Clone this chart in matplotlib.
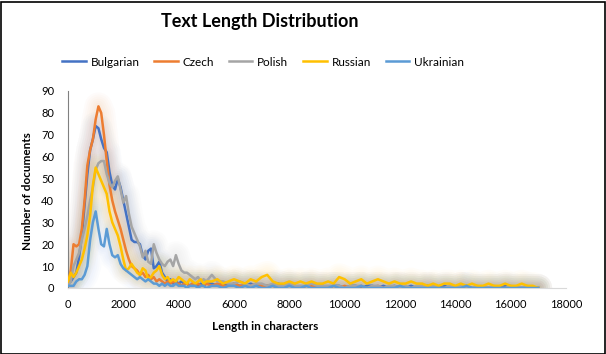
import matplotlib
matplotlib.use("Agg")
import matplotlib.pyplot as plt
from matplotlib.patches import Rectangle

plt.rcParams['font.family'] = ['Lato', 'DejaVu Sans']

# ---- data ----
lengths = list(range(0, 5001, 100)) + list(range(5200, 17001, 200))

bulgarian = [2, 3, 5, 7, 14, 24, 38, 52, 63, 68, 74, 73, 68, 64, 62, 53, 47, 45, 50, 46,
             40, 34, 28, 22, 21, 21, 20, 15, 13, 17, 18,
             9, 10, 12, 7, 5, 3, 4, 2, 3, 2, 3, 2, 2, 1, 2, 2, 1, 2, 1, 2,
             2, 1, 2, 1, 2, 1, 1, 2, 1, 1,
             1, 1, 2, 1, 1, 1, 0, 1, 1, 1,
             1, 0, 1, 1, 0, 1, 1, 0, 1, 1,
             0, 1, 0, 1, 0, 0, 1, 0, 0, 1,
             0, 0, 1, 0, 0, 0, 1, 0, 0, 0,
             0, 0, 0, 1, 0, 0, 0, 0, 0, 0]

czech = [2, 8, 20, 19, 20, 27, 40, 56, 63, 68, 77, 83, 80, 70, 58, 47, 40, 35, 31, 27,
         22, 17, 13, 10, 9, 8, 6, 7, 5, 6, 4,
         5, 3, 4, 3, 2, 3, 2, 3, 2, 2, 1, 2, 2, 1, 2, 1, 2, 1, 1, 2,
         1, 2, 1, 1, 2, 1, 1, 1, 2, 1,
         1, 1, 0, 1, 1, 1, 0, 1, 1, 0,
         1, 0, 1, 0, 1, 0, 0, 1, 0, 0,
         1, 0, 0, 0, 1, 0, 0, 0, 0, 1,
         0, 0, 0, 0, 0, 1, 0, 0, 0, 0,
         0, 0, 0, 0, 0, 0, 0, 0, 0, 0]

polish = [1, 3, 10, 13, 16, 22, 27, 33, 40, 46, 54, 57, 58, 58, 52, 48, 46, 49, 51, 45,
          39, 42, 34, 28, 25, 22, 19, 14, 17, 12, 11,
          20, 16, 13, 11, 10, 12, 13, 10, 15, 11, 8, 7, 7, 6, 5, 4, 5, 3, 4, 3,
          6, 3, 3, 2, 2, 3, 2, 1, 2, 2,
          1, 2, 1, 1, 2, 1, 1, 1, 2, 1,
          1, 1, 1, 1, 0, 1, 1, 1, 0, 1,
          1, 0, 1, 1, 0, 1, 0, 1, 1, 0,
          1, 0, 0, 1, 0, 1, 0, 0, 1, 0,
          0, 1, 0, 0, 1, 0, 0, 1, 0, 0]

russian = [3, 7, 5, 7, 10, 13, 18, 24, 33, 47, 55, 52, 49, 46, 43, 35, 30, 27, 24, 19,
           13, 8, 9, 11, 9, 7, 6, 9, 8, 4, 5,
           7, 8, 10, 6, 4, 5, 3, 4, 3, 5, 4, 3, 2, 4, 3, 2, 3, 4, 2, 3,
           3, 4, 2, 3, 4, 3, 2, 4, 3, 5,
           6, 3, 2, 2, 3, 2, 3, 2, 3, 2,
           2, 3, 2, 5, 4, 2, 3, 4, 2, 3,
           4, 3, 2, 3, 2, 2, 3, 2, 2, 1,
           2, 1, 2, 2, 1, 2, 1, 2, 1, 1,
           2, 1, 1, 2, 1, 1, 2, 1, 1, 0]

ukrainian = [1, 1, 1, 3, 4, 4, 6, 10, 22, 30, 35, 27, 20, 19, 27, 20, 15, 14, 15, 11,
             9, 8, 7, 6, 5, 4, 5, 4, 3, 4, 3,
             2, 2, 1, 2, 1, 2, 1, 1, 2, 1, 1, 1, 0, 1, 1, 1, 0, 1, 1, 0,
             1, 1, 0, 1, 1, 0, 1, 0, 1, 0,
             0, 1, 0, 0, 1, 0, 0, 1, 0, 0,
             0, 0, 1, 0, 0, 0, 0, 1, 0, 0,
             0, 0, 0, 0, 1, 0, 0, 0, 0, 0,
             0, 0, 0, 0, 0, 0, 1, 0, 0, 0,
             0, 0, 0, 0, 0, 0, 0, 0, 0, 0]

series_names = ["Bulgarian", "Czech", "Polish", "Russian", "Ukrainian"]
series_values = [bulgarian, czech, polish, russian, ukrainian]
colors = ["#4472C4", "#ED7D31", "#A5A5A5", "#FFC000", "#5B9BD5"]

x_ticks = list(range(0, 18001, 2000))
y_ticks = list(range(0, 91, 10))

# ---- figure ----
fig = plt.figure(figsize=(6.06, 3.54), dpi=100)
ax = fig.add_axes([68/606, 66/354, 498/606, 197/354])

handles = []
glow_widths = [20, 17, 14, 11, 8, 5]
for i, (name, vals, c) in enumerate(zip(series_names, series_values, colors)):
    # soft glow (many faint layers for a smooth halo)
    for lw in glow_widths:
        ax.plot(lengths, vals, color=c, lw=lw, alpha=0.025, solid_joinstyle='round',
                solid_capstyle='round', zorder=1 + i * 0.1)
    h, = ax.plot(lengths, vals, color=c, lw=1.8, zorder=3 + i, label=name)
    handles.append(h)

ax.set_xlim(0, 18000)
ax.set_ylim(0, 90)
ax.set_xticks(x_ticks)
ax.set_yticks(y_ticks)
ax.tick_params(axis='both', length=0, labelsize=8, colors='black')
ax.tick_params(axis='x', pad=8)
ax.tick_params(axis='y', pad=10)
for s in ['top', 'right']:
    ax.spines[s].set_visible(False)
ax.spines['left'].set_color('#808080')
ax.spines['left'].set_linewidth(0.8)
ax.spines['bottom'].set_color('#D9D9D9')
ax.spines['bottom'].set_linewidth(0.8)

fig.text(260/606, 1 - 22/354, "Text Length Distribution", ha='center', va='center',
         fontsize=13, fontweight='bold')
fig.text(265/606, 1 - 326/354, "Length in characters", ha='center', va='center',
         fontsize=8.5, fontweight='bold')
fig.text(28/606, 1 - 191/354, "Number of documents", ha='center', va='center',
         rotation=90, fontsize=8.5, fontweight='bold')

fig.legend(handles=handles, labels=series_names, loc='center', ncol=5,
           bbox_to_anchor=(263/606, 1 - 62/354), frameon=False, fontsize=8.5,
           handlelength=2.0, handletextpad=0.4, columnspacing=1.25)

fig.patches.append(Rectangle((0.5/606, 0.5/354), 1 - 2/606, 1 - 2/354,
                             transform=fig.transFigure, fill=False,
                             edgecolor='black', lw=1.2))

fig.savefig("out.png", dpi=100)
